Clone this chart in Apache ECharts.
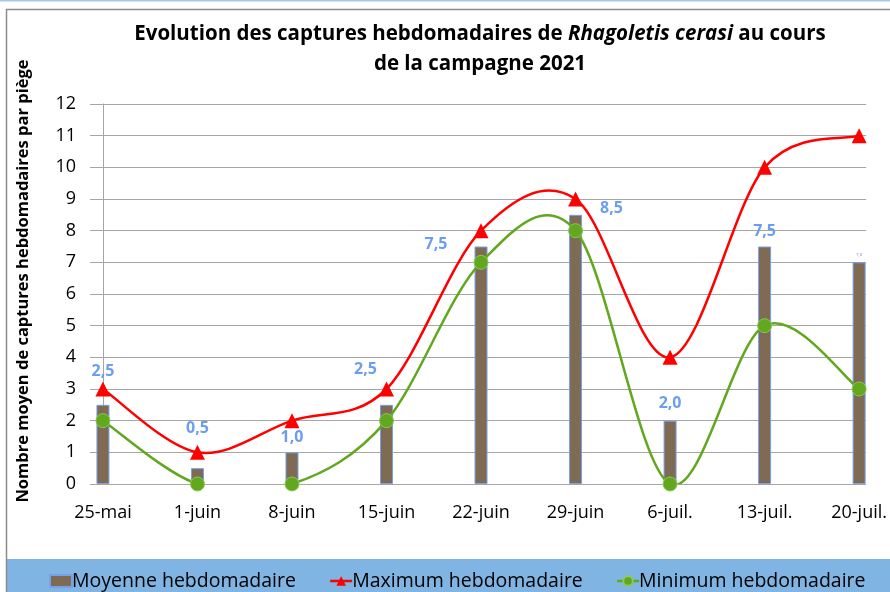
<!DOCTYPE html>
<html>
<head>
<meta charset="utf-8">
<script src="https://cdn.jsdelivr.net/npm/echarts@6/dist/echarts.min.js"></script>
<style>html,body{margin:0;padding:0;background:#fff}#c{width:890px;height:592px}</style>
</head>
<body>
<div id="c"></div>
<script>
var categories = ['25-mai','1-juin','8-juin','15-juin','22-juin','29-juin','6-juil.','13-juil.','20-juil.'];
var moyenne = [2.5, 0.5, 1.0, 2.5, 7.5, 8.5, 2.0, 7.5, 7.0];
var maximum = [3, 1, 2, 3, 8, 9, 4, 10, 11];
var minimum = [2, 0, 0, 2, 7, 8, 0, 5, 3];
var yTicks = [0,1,2,3,4,5,6,7,8,9,10,11,12];

var FONT = '"Open Sans", "Noto Sans", sans-serif';
var RED = '#ff0000', GREEN = '#62a81e';
// label offsets for bar value labels (style only)
var labelOffsets = [[0,-20],[0,-27],[0,-2],[-21,-22],[-45,11],[36,7],[0,-4],[0,-2],[0,0]];

var barData = moyenne.map(function(v,i){
  var item = {value:[i,v], label:{offset:labelOffsets[i]}};
  if (i === moyenne.length-1) item.label = {offset:[0,0], fontSize:4, color:'#9fb6dd'};
  return item;
});

// Excel-like smooth curve (Catmull-Rom bezier) drawn through the axes' coordinates
function curveSeries(name, values, color){
  return {
    name:name, type:'custom', clip:true, z:2, silent:true,
    data:values.map(function(v,i){return [i,v];}),
    renderItem:function(params, api){
      if (params.dataIndex !== 0) return null;
      var p = values.map(function(v,i){return api.coord([i,v]);});
      var n = p.length, children = [];
      for (var i=0;i<n-1;i++){
        var a = p[i>0?i-1:i], b = p[i], c = p[i+1], d = p[i+2<n?i+2:i+1];
        children.push({
          type:'bezierCurve',
          shape:{x1:b[0],y1:b[1],x2:c[0],y2:c[1],
            cpx1:b[0]+(c[0]-a[0])/6, cpy1:b[1]+(c[1]-a[1])/6,
            cpx2:c[0]-(d[0]-b[0])/6, cpy2:c[1]-(d[1]-b[1])/6},
          style:{stroke:color, lineWidth:2.5, fill:null}
        });
      }
      return {type:'group', children:children};
    }
  };
}

var chart = echarts.init(document.getElementById('c'), null, {renderer:'canvas'});
chart.setOption({
  animation:false,
  backgroundColor:'#ffffff',
  textStyle:{fontFamily:FONT},
  graphic:[
    {type:'rect', shape:{x:0,y:0,width:890,height:1.5}, style:{fill:'#a9c8ea'}, silent:true},
    {type:'line', shape:{x1:6,y1:9.5,x2:890,y2:9.5}, style:{stroke:'#8c8c8c',lineWidth:1.5}, silent:true},
    {type:'line', shape:{x1:6.5,y1:9,x2:6.5,y2:592}, style:{stroke:'#8c8c8c',lineWidth:1.5}, silent:true},
    {type:'rect', shape:{x:7,y:559,width:883,height:33}, style:{fill:'#7fb4e3'}, silent:true, z:-1}
  ],
  title:{
    left:475, top:14, textAlign:'center',
    text:'{b|Evolution des captures hebdomadaires de }{i|Rhagoletis cerasi}{b| au cours}\n{b|de la campagne 2021}',
    textStyle:{
      rich:{
        b:{fontFamily:FONT,fontWeight:'bold',fontSize:20.5,color:'#000',lineHeight:30},
        i:{fontFamily:FONT,fontWeight:'bold',fontStyle:'italic',fontSize:20.5,color:'#000',lineHeight:30}
      }
    }
  },
  legend:{
    left:44, top:566, itemGap:33, itemWidth:22, itemHeight:12,
    textStyle:{fontFamily:FONT,fontSize:19.5,color:'#000',padding:[0,0,0,-5]},
    data:[
      {name:'Moyenne hebdomadaire', icon:'rect'},
      {name:'Maximum hebdomadaire', lineStyle:{color:RED,width:2.5,opacity:1}},
      {name:'Minimum hebdomadaire', lineStyle:{color:GREEN,width:2.5,opacity:1}}
    ]
  },
  grid:{left:90, right:23, top:104, bottom:108, containLabel:false},
  xAxis:{
    type:'value', min:-0.137, max:8.074,
    axisLine:{show:false}, axisTick:{show:false}, splitLine:{show:false},
    axisLabel:{
      customValues:[0,1,2,3,4,5,6,7,8],
      formatter:function(v){return categories[Math.round(v)];},
      fontFamily:FONT, fontSize:18, color:'#000', margin:20
    }
  },
  yAxis:{
    type:'value', min:yTicks[0], max:yTicks[yTicks.length-1], interval:1,
    name:'Nombre moyen de captures hebdomadaires par piège',
    nameLocation:'middle', nameGap:58, nameRotate:90,
    nameTextStyle:{fontFamily:FONT,fontWeight:'bold',fontSize:16.5,color:'#000',padding:[0,0,0,26]},
    axisLine:{show:true, lineStyle:{color:'#a6a6a6',width:1}},
    axisTick:{show:false},
    splitLine:{lineStyle:{color:'#a6a6a6',width:1.2}},
    axisLabel:{fontFamily:FONT,fontSize:18,color:'#000',margin:14}
  },
  series:[
    {
      name:'Moyenne hebdomadaire', type:'bar', barWidth:13, clip:false,
      data:barData,
      itemStyle:{color:'#7f6a54', borderColor:'#76a0e8', borderWidth:1},
      label:{show:true, position:'top', distance:5, fontFamily:FONT, fontWeight:'bold', fontSize:16, color:'#6b9ef0',
        formatter:function(p){return p.value[1].toFixed(1).replace('.',',');}},
      z:1
    },
    curveSeries('maxCurve', maximum, RED),
    curveSeries('minCurve', minimum, GREEN),
    {
      name:'Maximum hebdomadaire', type:'line',
      data:maximum.map(function(v,i){return [i,v];}),
      symbol:'triangle', symbolSize:15, clip:false,
      lineStyle:{color:RED, width:2.5, opacity:0},
      itemStyle:{color:RED, borderColor:RED, borderWidth:0},
      z:4
    },
    {
      name:'Minimum hebdomadaire', type:'line',
      data:minimum.map(function(v,i){return [i,v];}),
      symbol:'circle', symbolSize:14, clip:false,
      lineStyle:{color:GREEN, width:2.5, opacity:0},
      itemStyle:{color:GREEN, borderColor:'#8cc85a', borderWidth:1},
      z:3
    }
  ]
});
</script>
</body>
</html>
